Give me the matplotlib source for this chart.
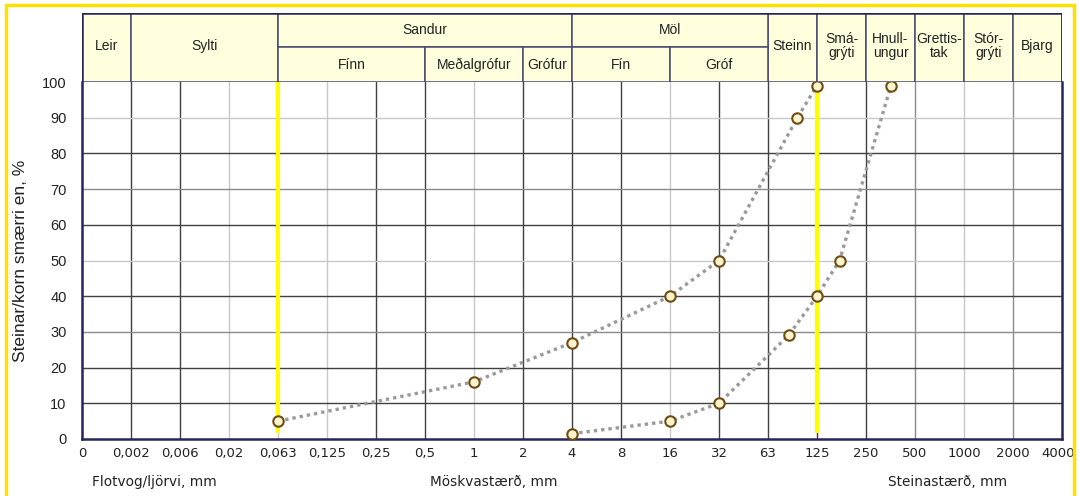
import numpy as np
import matplotlib
matplotlib.use("Agg")
import matplotlib.pyplot as plt
import matplotlib.transforms as mtransforms
from matplotlib.patches import Rectangle

# ---------------- data ----------------
tick_mm = [0.001, 0.002, 0.006, 0.02, 0.063, 0.125, 0.25, 0.5, 1, 2, 4, 8, 16, 32,
           63, 125, 250, 500, 1000, 2000, 4000]
tick_labels = ["0", "0,002", "0,006", "0,02", "0,063", "0,125", "0,25", "0,5", "1", "2",
               "4", "8", "16", "32", "63", "125", "250", "500", "1000", "2000", "4000"]

series1_mm = [0.063, 1, 4, 16, 32, 95, 125]
series1_pct = [5, 16, 27, 40, 50, 90, 99]
series2_mm = [4, 16, 32, 84, 125, 172, 356]
series2_pct = [1.5, 5, 10, 29, 40, 50, 99]

yellow_mm = [0.063, 125]

header_full = [("Leir", 0.001, 0.002), ("Sylti", 0.002, 0.063),
               ("Steinn", 63, 125), ("Smá-\ngrýti", 125, 250),
               ("Hnull-\nungur", 250, 500), ("Grettis-\ntak", 500, 1000),
               ("Stór-\ngrýti", 1000, 2000), ("Bjarg", 2000, 4000)]
header_top = [("Sandur", 0.063, 4), ("Möl", 4, 63)]
header_bottom = [("Fínn", 0.063, 0.5), ("Meðalgrófur", 0.5, 2), ("Grófur", 2, 4),
                 ("Fín", 4, 16), ("Gróf", 16, 63)]

# ---------------- scale ----------------
LOGT = np.log10(np.array(tick_mm))
IDX = np.arange(len(tick_mm), dtype=float)

def fwd(x):
    x = np.asarray(x, dtype=float)
    return np.interp(np.log10(np.maximum(x, 1e-12)), LOGT, IDX)

def inv(p):
    p = np.asarray(p, dtype=float)
    return 10 ** np.interp(p, IDX, LOGT)

def mid(x0, x1):
    return float(inv((fwd(x0) + fwd(x1)) / 2))

W, H = 1079, 496
fig = plt.figure(figsize=(W / 100, H / 100), dpi=100)
fig.patch.set_facecolor("white")

L, R, B, T = 82, 1062, 439, 82
HT = 13
ax = fig.add_axes([L / W, 1 - B / H, (R - L) / W, (B - T) / H])
ax.set_xscale("function", functions=(fwd, inv))
ax.set_xlim(tick_mm[0], tick_mm[-1])
ax.set_ylim(0, 100)

dark_x = {0.002, 0.006, 0.25, 0.5, 2, 4, 8, 32, 63, 125, 250}
med_x = {500, 2000}
for v in tick_mm[1:-1]:
    if v in dark_x:
        c = "#404040"
    elif v in med_x:
        c = "#8a8a8a"
    else:
        c = "#c8c8c8"
    ax.axvline(v, color=c, lw=1.0, zorder=1)
dark_y = {10, 20, 40, 60, 80}
med_y = {30, 70}
for v in range(10, 100, 10):
    if v in dark_y:
        c = "#404040"
    elif v in med_y:
        c = "#8a8a8a"
    else:
        c = "#c8c8c8"
    ax.axhline(v, color=c, lw=1.0, zorder=1)

for v in yellow_mm:
    ax.plot([v, v], [1.8, 100], color="#FFFF00", lw=3, zorder=2, solid_capstyle="butt")

for xs, ys in [(series1_mm, series1_pct), (series2_mm, series2_pct)]:
    ax.plot(xs, ys, color="#9a9a9a", lw=2.4, linestyle=(0, (1, 1.2)),
            dash_capstyle="butt", zorder=3)
    ax.plot(xs, ys, linestyle="none", marker="o", markersize=7.5,
            markerfacecolor="#FFF4CC", markeredgecolor="#6e4c14", markeredgewidth=1.5,
            zorder=4, clip_on=False)

ax.set_xticks(tick_mm)
ax.set_xticklabels(tick_labels, fontfamily="DejaVu Sans", fontsize=9.5, color="#222222")
ax.set_yticks(range(0, 101, 10))
ax.set_yticklabels([str(v) for v in range(0, 101, 10)], fontfamily="Liberation Sans",
                   fontsize=10.5, color="#222222")
ax.tick_params(axis="both", length=0)
ax.tick_params(axis="x", pad=6)
ax.tick_params(axis="y", pad=11)
# nudge the last x tick label slightly left so it stays inside the image
last = ax.xaxis.get_major_ticks()[-1].label1
last.set_transform(last.get_transform() + mtransforms.ScaledTranslation(-4 / 100, 0, fig.dpi_scale_trans))
for s in ["left", "bottom", "right"]:
    ax.spines[s].set_color("#26265a")
    ax.spines[s].set_linewidth(1.8)
ax.spines["top"].set_visible(False)
ax.set_ylabel("Steinar/korn smærri en, %", fontfamily="Liberation Sans", fontsize=12.5,
              color="#222222", labelpad=10)

# header
hdr = fig.add_axes([L / W, 1 - T / H, (R - L) / W, (T - HT) / H], sharex=ax)
hdr.set_ylim(0, 2)
hdr.axis("off")
fill = "#FFFFDE"
edge = "#4a4a6e"
fs = 10
for lab, x0, x1 in header_full:
    hdr.fill([x0, x1, x1, x0], [0, 0, 2, 2], facecolor=fill, edgecolor=edge, lw=1.1)
    hdr.text(mid(x0, x1), 1.05, lab, ha="center", va="center", fontsize=fs,
             fontfamily="Liberation Sans", color="#222222", linespacing=1.0)
for lab, x0, x1 in header_top:
    hdr.fill([x0, x1, x1, x0], [1, 1, 2, 2], facecolor=fill, edgecolor=edge, lw=1.1)
    hdr.text(mid(x0, x1), 1.5, lab, ha="center", va="center", fontsize=fs,
             fontfamily="Liberation Sans", color="#222222")
for lab, x0, x1 in header_bottom:
    hdr.fill([x0, x1, x1, x0], [0, 0, 1, 1], facecolor=fill, edgecolor=edge, lw=1.1)
    hdr.text(mid(x0, x1), 0.5, lab, ha="center", va="center", fontsize=fs,
             fontfamily="Liberation Sans", color="#222222")
hdr.plot([tick_mm[0], tick_mm[0], tick_mm[-1], tick_mm[-1]], [0, 2, 2, 0],
         color="#26265a", lw=1.8)

for txt, px in [("Flotvog/ljörvi, mm", 92), ("Möskvastærð, mm", 430), ("Steinastærð, mm", 888)]:
    fig.text(px / W, 1 - 482 / H, txt, ha="left", va="center", fontsize=9.8,
             fontfamily="DejaVu Sans", color="#222222")

fig.add_artist(Rectangle((6 / W, -0.02), (1074 - 6) / W, 1 - 5 / H + 0.02,
                         transform=fig.transFigure, fill=False, edgecolor="#FFE000",
                         lw=2.5))

fig.savefig("out.png", dpi=100)
